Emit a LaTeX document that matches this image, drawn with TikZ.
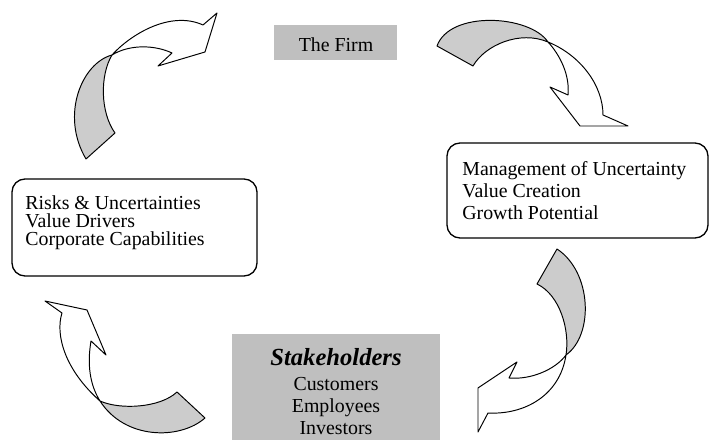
\documentclass[tikz,border=0pt]{standalone}
\usepackage{fontspec}
\setmainfont{Liberation Serif}
\tikzset{
  backside/.style={draw,fill=gray!40,line width=.55pt,line join=round},
  frontside/.style={draw,fill=white,line width=.55pt,line join=round},
  shadebox/.style={fill=gray!50},
  roundbox/.style={draw,line width=.75pt,rounded corners=2.6mm},
}
\begin{document}
\begin{tikzpicture}[x=.2mm,y=-.2mm,font=\fontsize{11.3}{12.6}\selectfont]
  \useasboundingbox (0,0) rectangle (709,440);
  \fill[shadebox] (274,25) rectangle (397,60);
  \fill[shadebox] (232,334) rectangle (440,440);
  \draw[roundbox] (12,179) rectangle (257,276);
  \draw[roundbox] (447,143) rectangle (708,238);
  \node (firm) [anchor=base,inner sep=0] at (336,51.7) {The Firm};
  \node (risks) [anchor=base west,align=left,inner sep=0,
    font=\fontsize{11.3}{10.4}\selectfont] at (25,246)
    {Risks \& Uncertainties\\Value Drivers\\Corporate Capabilities};
  \node (mgmt) [anchor=base west,align=left,inner sep=0] at (462,219.3)
    {Management of Uncertainty\\Value Creation\\Growth Potential};
  \node (stake) [anchor=base,align=center,inner sep=0] at (336,435)
    {{\fontsize{14}{14}\selectfont\bfseries\itshape Stakeholders}\\[2pt]
     Customers\\Employees\\Investors};
  \draw[backside] (112,55) .. controls (82,63) and (60,115) .. (86,159)
    -- (115,133) .. controls (100,112) and (100,75) .. cycle;
  \draw[frontside] (112,55) .. controls (130,35) and (170,10) .. (203,25)
    -- (217,13) -- (205,52) -- (158,66) -- (172,53)
    .. controls (155,45) and (130,44) .. cycle;
  \draw[backside] (548,42) .. controls (530,15) and (450,10) .. (437,46)
    -- (473,66) .. controls (485,45) and (520,30) .. cycle;
  \draw[frontside] (548,42) .. controls (560,55) and (570,75) .. (568,95)
    -- (550,87) -- (580,126) -- (628,126) -- (603,115)
    .. controls (603,85) and (580,55) .. cycle;
  \draw[backside] (566,355) .. controls (594,335) and (592,272) .. (557,249)
    -- (537,284) .. controls (560,295) and (570,330) .. cycle;
  \draw[frontside] (566,355) .. controls (555,370) and (530,380) .. (509,378)
    -- (517,362) -- (478,388) -- (478,432) -- (488,413)
    .. controls (525,415) and (560,395) .. cycle;
  \draw[backside] (100,401) .. controls (125,440) and (180,440) .. (205,418)
    -- (177,392) .. controls (160,408) and (120,410) .. cycle;
  \draw[frontside] (100,401) .. controls (65,370) and (55,335) .. (62,313)
    -- (45,301) -- (87,310) -- (106,355) -- (91,341)
    .. controls (87,365) and (90,385) .. cycle;
\end{tikzpicture}
\end{document}
